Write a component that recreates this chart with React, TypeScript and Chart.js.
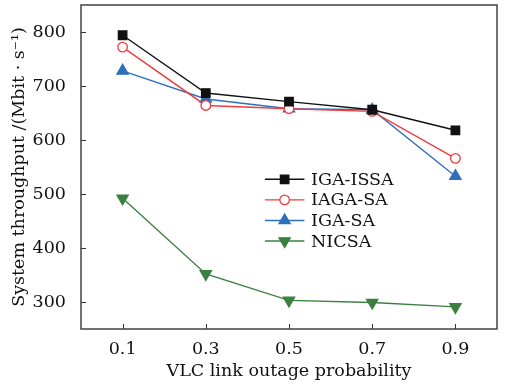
import React, { useEffect, useRef } from "react";
import { Chart, registerables } from "chart.js";

Chart.register(...registerables);

const xValues = [0.1, 0.3, 0.5, 0.7, 0.9];
const xTickLabels = ["0.1", "0.3", "0.5", "0.7", "0.9"];
const yTicks = [300, 400, 500, 600, 700, 800];
const seriesNames = ["IGA-ISSA", "IAGA-SA", "IGA-SA", "NICSA"];
const igaIssa = [794, 687, 671, 656, 618];
const iagaSa = [772, 664, 658, 653, 566];
const igaSa = [728, 676, 658, 656, 533];
const nicsa = [492, 352, 303, 299, 291];

const FONT = "'DejaVu Serif', 'Liberation Serif', serif";
const FS = 17.5;
const TEXT = "#111";

function drawMarker(ctx: any, ds: any, x: number, y: number) {
  const r = ds.pointRadius;
  ctx.fillStyle = ds.pointBackgroundColor;
  ctx.strokeStyle = ds.pointBorderColor;
  ctx.lineWidth = ds.pointBorderWidth;
  ctx.beginPath();
  if (ds.pointStyle === "rect") {
    const s = r / Math.SQRT2;
    ctx.rect(x - s, y - s, 2 * s, 2 * s);
  } else if (ds.pointStyle === "circle") {
    ctx.arc(x, y, r, 0, Math.PI * 2);
  } else {
    const rad0 = ds.rotation === 180 ? Math.PI / 2 : -Math.PI / 2;
    for (let k = 0; k < 3; k++) {
      const a = rad0 + (k * 2 * Math.PI) / 3;
      const px = x + Math.cos(a) * r;
      const py = y + Math.sin(a) * r;
      if (k === 0) ctx.moveTo(px, py);
      else ctx.lineTo(px, py);
    }
    ctx.closePath();
  }
  ctx.fill();
  ctx.stroke();
}

const framePlugin = {
  id: "frame",
  afterDatasetsDraw(chart: any) {
    const { ctx, chartArea, scales } = chart;
    const { left, right, top, bottom } = chartArea;
    ctx.save();
    ctx.strokeStyle = "#444";
    ctx.lineWidth = 1.5;
    ctx.beginPath();
    ctx.moveTo(left, top);
    ctx.lineTo(right, top);
    ctx.lineTo(right, bottom);
    ctx.lineTo(left, bottom);
    ctx.closePath();
    ctx.stroke();
    ctx.lineWidth = 1;
    ctx.strokeStyle = "#333";
    ctx.beginPath();
    xValues.forEach((v) => {
      const px = Math.round(scales.x.getPixelForValue(v)) + 0.5;
      ctx.moveTo(px, bottom);
      ctx.lineTo(px, bottom - 5);
    });
    yTicks.forEach((v) => {
      const py = Math.round(scales.y.getPixelForValue(v)) + 0.5;
      ctx.moveTo(left, py);
      ctx.lineTo(left + 5, py);
    });
    ctx.stroke();

    // legend: line + marker + label, using each dataset's own styling
    const w = right - left;
    const h = bottom - top;
    const x0 = left + w * 0.442;
    const x1 = left + w * 0.537;
    const xm = (x0 + x1) / 2;
    const xt = left + w * 0.553;
    const y0 = top + h * 0.538;
    const dy = h * 0.0635;
    ctx.font = `${FS}px ${FONT}`;
    ctx.textBaseline = "middle";
    ctx.textAlign = "left";
    chart.data.datasets.forEach((ds: any, i: number) => {
      const y = y0 + dy * i;
      ctx.strokeStyle = ds.borderColor;
      ctx.lineWidth = ds.borderWidth;
      ctx.beginPath();
      ctx.moveTo(x0, y);
      ctx.lineTo(x1, y);
      ctx.stroke();
      drawMarker(ctx, ds, xm, y);
      ctx.fillStyle = TEXT;
      ctx.fillText(ds.label, xt, y + 1);
    });
    ctx.restore();
  },
};

export default function App() {
  const ref = useRef<HTMLCanvasElement>(null);
  useEffect(() => {
    const colors = ["#111111", "#f03c3c", "#2f6fbd", "#3a8040"];
    const styles = ["rect", "circle", "triangle", "triangle"];
    const rots = [0, 0, 0, 180];
    const fills = ["#111111", "#ffffff", "#2f6fbd", "#3a8040"];
    const sizes = [6, 4.8, 6.5, 6.5];
    const data = [igaIssa, iagaSa, igaSa, nicsa];
    const chart = new Chart(ref.current!, {
      type: "line",
      data: {
        datasets: seriesNames.map((name, i) => ({
          label: name,
          data: xValues.map((x, j) => ({ x, y: data[i][j] })),
          borderColor: colors[i],
          backgroundColor: fills[i],
          pointBackgroundColor: fills[i],
          pointBorderColor: colors[i],
          pointBorderWidth: 1.3,
          pointStyle: styles[i] as any,
          rotation: rots[i],
          pointRadius: sizes[i],
          borderWidth: 1.4,
          tension: 0,
        })),
      },
      plugins: [framePlugin],
      options: {
        animation: false,
        responsive: false,
        layout: { autoPadding: false, padding: { left: 9, right: 9, top: 5, bottom: 3 } },
        plugins: {
          legend: { display: false },
          tooltip: { enabled: false },
        },
        scales: {
          x: {
            type: "linear",
            min: 0,
            max: 1,
            afterBuildTicks: (s: any) => {
              s.ticks = xValues.map((v) => ({ value: v }));
            },
            grid: { display: false },
            border: { display: false },
            ticks: {
              color: TEXT,
              font: { family: FONT, size: FS },
              padding: 2,
              callback: (v: any) => xTickLabels[xValues.indexOf(Number(v))] ?? "",
              maxRotation: 0,
            },
            title: {
              display: true,
              text: "VLC link outage probability",
              color: TEXT,
              font: { family: FONT, size: FS },
              padding: { top: 0, bottom: 0 },
            },
            afterFit: (s: any) => {
              s.height = 53;
              s.paddingLeft = 0;
              s.paddingRight = 0;
            },
          },
          y: {
            min: 250,
            max: 850,
            afterBuildTicks: (s: any) => {
              s.ticks = yTicks.map((v) => ({ value: v }));
            },
            grid: { display: false },
            border: { display: false },
            ticks: {
              color: TEXT,
              font: { family: FONT, size: FS },
              padding: 7,
            },
            title: {
              display: true,
              text: "System throughput /(Mbit · s⁻¹)",
              color: TEXT,
              font: { family: FONT, size: FS },
              padding: { top: 0, bottom: 1 },
            },
            afterFit: (s: any) => {
              s.width = 72;
              s.paddingTop = 0;
              s.paddingBottom = 0;
            },
          },
        },
      },
    });
    return () => chart.destroy();
  }, []);
  return (
    <div style={{ position: "fixed", left: 0, top: 0, width: 506, height: 385, background: "#fff" }}>
      <canvas ref={ref} width={506} height={385} style={{ width: 506, height: 385 }} />
    </div>
  );
}
